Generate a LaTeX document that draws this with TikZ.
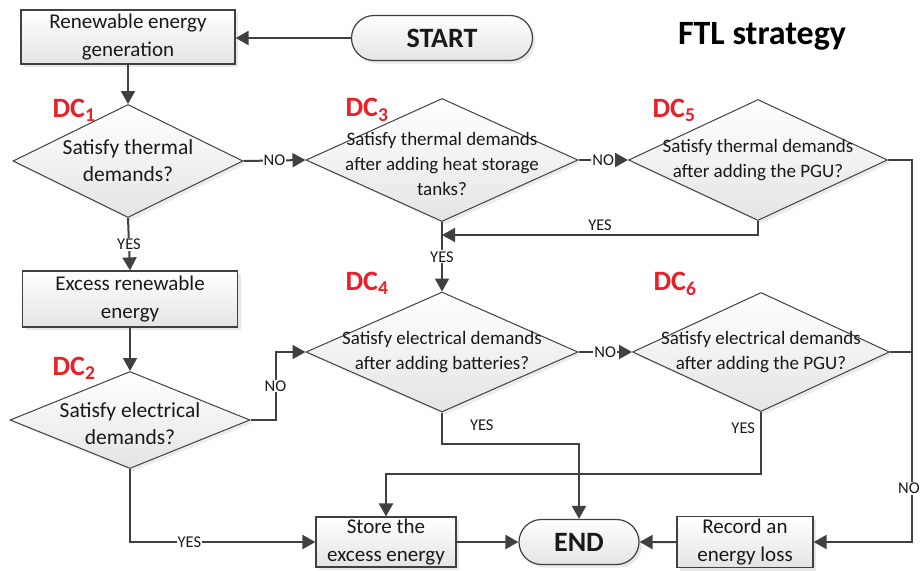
\documentclass[tikz,border=0pt]{standalone}
\usepackage{fontspec}
\setmainfont{Carlito}
\usetikzlibrary{shapes.geometric,shapes.misc,arrows.meta,shadows}
\definecolor{linegray}{HTML}{404040}
\definecolor{fillgray}{HTML}{E4E4E4}
\definecolor{dcred}{HTML}{E8202A}

\begin{document}
\begin{tikzpicture}[x=1pt,y=-1pt]
\tikzstyle{every node}=[font=\fontsize{21}{28}\selectfont, text=black!90]
\tikzstyle{proc}=[rectangle, draw=linegray, line width=1.2pt, top color=white, bottom color=fillgray, drop shadow={shadow xshift=3pt, shadow yshift=-3pt, fill=black!18}, align=center, inner sep=0pt]
\tikzstyle{term}=[proc, rounded rectangle, minimum height=45, font=\fontsize{28}{30}\selectfont\bfseries]
\tikzstyle{dec}=[diamond, draw=linegray, line width=1pt, top color=white, bottom color=fillgray, drop shadow={shadow xshift=3pt, shadow yshift=-3pt, fill=black!15}, inner sep=0pt]
\tikzstyle{dtxt}=[align=center, inner sep=0pt, font=\fontsize{19}{25}\selectfont]
\tikzstyle{dtxtbig}=[align=center, inner sep=0pt, font=\fontsize{21.5}{27}\selectfont]
\tikzstyle{dclbl}=[text=dcred, font=\fontsize{28}{30}\selectfont\bfseries, inner sep=0pt]
\tikzstyle{arr}=[draw=linegray, line width=2pt, -{Triangle[length=13pt,width=14pt]}]
\tikzstyle{wire}=[draw=linegray, line width=2pt]
\tikzstyle{lbl}=[font=\fontsize{16.5}{17}\selectfont, fill=white, inner sep=1pt]
\tikzstyle{lblfree}=[font=\fontsize{16.5}{17}\selectfont, inner sep=1pt]

\useasboundingbox (0,0) rectangle (920,570);

\node[term, minimum width=181] (start) at (442,38) {START};
\node[font=\fontsize{34}{36}\selectfont\bfseries, text=black] (title) at (762,36) {FTL strategy};

\node[proc, minimum width=214, minimum height=54] (gen) at (128,37) {Renewable energy\\generation};
\node[proc, minimum width=215, minimum height=56] (excess) at (130,299) {Excess renewable\\energy};
\node[proc, minimum width=140, minimum height=50] (store) at (386,542) {Store the\\excess energy};
\node[term, minimum width=120] (end) at (579,542) {END};
\node[proc, minimum width=136, minimum height=51] (record) at (745,542) {Record an\\energy loss};

\node[dec, minimum width=230, minimum height=113] (dc1) at (128,161) {};
\node[dtxtbig] (dc1t) at (128,161) {Satisfy thermal\\demands?};
\node[dec, minimum width=240, minimum height=97] (dc2) at (130,420) {};
\node[dtxtbig] (dc2t) at (130,424) {Satisfy electrical\\demands?};
\node[dec, minimum width=272, minimum height=123] (dc3) at (442,160) {};
\node[dtxt] (dc3t) at (442,164) {Satisfy thermal demands\\after adding heat storage\\tanks?};
\node[dec, minimum width=272, minimum height=120] (dc4) at (442,352) {};
\node[dtxt] (dc4t) at (442,352) {Satisfy electrical demands\\after adding batteries?};
\node[dec, minimum width=259, minimum height=121] (dc5) at (758,160) {};
\node[dtxt] (dc5t) at (758,160) {Satisfy thermal demands\\after adding the PGU?};
\node[dec, minimum width=257, minimum height=119] (dc6) at (761,352) {};
\node[dtxt] (dc6t) at (761,352) {Satisfy electrical demands\\after adding the PGU?};

\node[dclbl] (dc1l) at (74,110) {DC\textsubscript{1}};
\node[dclbl] (dc2l) at (74,368) {DC\textsubscript{2}};
\node[dclbl] (dc3l) at (367,110) {DC\textsubscript{3}};
\node[dclbl] (dc4l) at (367,283) {DC\textsubscript{4}};
\node[dclbl] (dc5l) at (674,110) {DC\textsubscript{5}};
\node[dclbl] (dc6l) at (675,284) {DC\textsubscript{6}};

\coordinate (join3) at (442,235);
\coordinate (rail) at (912,542);

\draw[arr] (start.west) -- (start.west -| gen.east);
\draw[arr] (gen) -- (dc1);
\draw[arr] (dc1.east) -- node[lbl]{NO} (dc3.west);
\draw[arr] (dc3.east) -- node[lbl]{NO} (dc5.west);
\draw[arr] (dc1.south) -- node[lbl]{YES} (excess.north);
\draw[arr] (excess) -- (dc2);
\draw[arr] (dc2.east) -- ++(25,0) |- node[lbl,pos=0.25]{NO} (dc4.west);
\draw[arr] (dc2.south) |- node[lbl,pos=0.66]{YES} (store.west);
\draw[arr] (dc3.south) -- node[lbl]{YES} (dc4.north);
\draw[arr] (dc5.south) |- node[lblfree,pos=0.75,above=2pt]{YES} (join3);
\draw[arr] (dc5.east) -| node[lbl,pos=0.93,xshift=-3pt]{NO} (rail) -- (record.east);
\draw[wire] (dc6.east) -- (dc6.east -| rail);
\draw[arr] (dc4.east) -- node[lbl]{NO} (dc6.west);
\draw[arr] (dc4.south) -- node[lblfree,pos=0.42,right=26pt]{YES} ++(0,31) -| (end.north);
\draw[arr] (dc6.south) -- node[lblfree,pos=0.26,left=4pt]{YES} ++(0,62) -| (store.north);
\draw[arr] (store) -- (end);
\draw[arr] (record) -- (end);
\end{tikzpicture}
\end{document}
